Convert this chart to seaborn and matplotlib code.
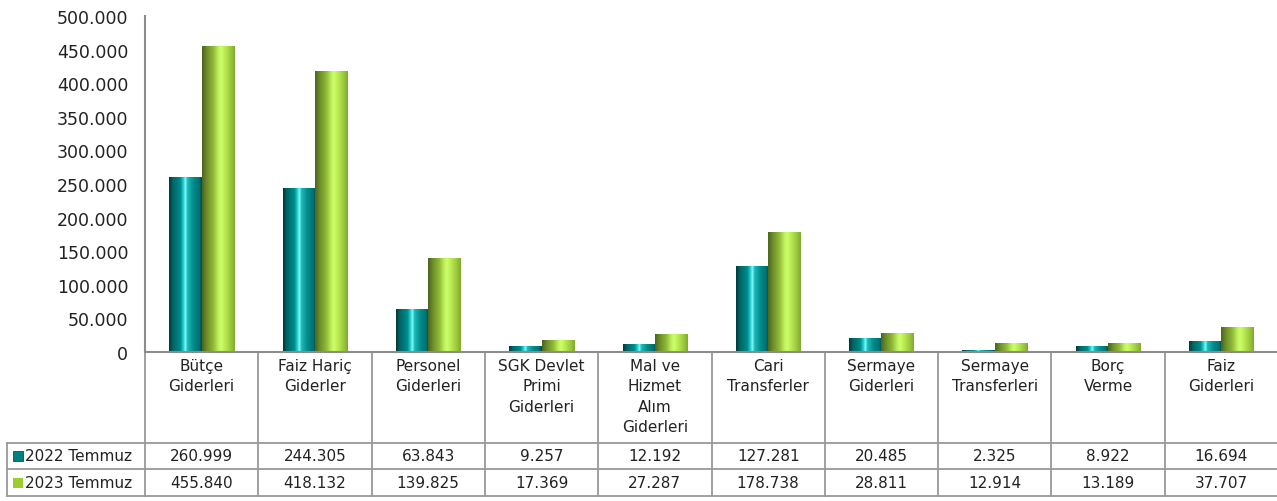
import numpy as np
import pandas as pd
import matplotlib
matplotlib.use("Agg")
import matplotlib.pyplot as plt
import matplotlib.transforms as mtransforms
from matplotlib.colors import to_rgb
from matplotlib.patches import Rectangle
from matplotlib.ticker import FuncFormatter
import seaborn as sns

# veriler (milyon TL)
kategoriler = ["Bütçe\nGiderleri", "Faiz Hariç\nGiderler", "Personel\nGiderleri",
               "SGK Devlet\nPrimi\nGiderleri", "Mal ve\nHizmet\nAlım\nGiderleri",
               "Cari\nTransferler", "Sermaye\nGiderleri", "Sermaye\nTransferleri",
               "Borç\nVerme", "Faiz\nGiderleri"]
seriler = ["2022 Temmuz", "2023 Temmuz"]
temmuz_2022 = [260999, 244305, 63843, 9257, 12192, 127281, 20485, 2325, 8922, 16694]
temmuz_2023 = [455840, 418132, 139825, 17369, 27287, 178738, 28811, 12914, 13189, 37707]
y_ticks = list(range(0, 500001, 50000))

renkler = {"2022 Temmuz": "#008080", "2023 Temmuz": "#9acd32"}
# silindir görünümü için renk geçişleri
gecis = {
    "2022 Temmuz": [(0.0, "#003838"), (0.12, "#006666"), (0.35, "#008c8c"), (0.45, "#30d8d8"),
                    (0.5, "#80ffff"), (0.56, "#20b8b8"), (0.75, "#008a8a"), (0.92, "#007070"),
                    (1.0, "#004848")],
    "2023 Temmuz": [(0.0, "#4a6420"), (0.15, "#6e8f2a"), (0.35, "#92bb38"), (0.5, "#c0f060"),
                    (0.58, "#ccff66"), (0.72, "#b6e650"), (0.9, "#96c23a"), (1.0, "#80a830")],
}


def gradyan(stops, n=256):
    pos = [s[0] for s in stops]
    cols = np.array([to_rgb(s[1]) for s in stops])
    x = np.linspace(0, 1, n)
    arr = np.stack([np.interp(x, pos, cols[:, k]) for k in range(3)], axis=-1)
    return arr[np.newaxis, :, :]


df = pd.DataFrame({
    "Kalem": kategoriler * 2,
    "Dönem": [seriler[0]] * len(kategoriler) + [seriler[1]] * len(kategoriler),
    "Değer": temmuz_2022 + temmuz_2023,
})

W, H = 1277, 502
fig = plt.figure(figsize=(W / 100, H / 100), dpi=100)
ax = fig.add_axes([145 / W, 149 / H, (1278 - 145) / W, (353 - 17) / H])

sns.barplot(data=df, x="Kalem", y="Değer", hue="Dönem", palette=renkler,
            width=0.57, gap=0, legend=False, ax=ax, saturation=1)

# çubuklara silindir gölgesi
patches = list(ax.patches)
n = len(kategoriler)
for i, p in enumerate(patches):
    seri = seriler[i // n]
    x0, w, h = p.get_x(), p.get_width(), p.get_height()
    if h <= 0:
        continue
    im = ax.imshow(gradyan(gecis[seri]), extent=[x0, x0 + w, 0, h], aspect="auto",
                   interpolation="bilinear", zorder=p.get_zorder() + 0.1)
    im.set_clip_path(p)

ax.set_xlim(-0.5, n - 0.5)
ax.set_ylim(0, 500000)
ax.set_yticks(y_ticks)
ax.yaxis.set_major_formatter(FuncFormatter(lambda v, _: f"{int(v):,}".replace(",", ".")))
ax.set_xticks([])
ax.set_xlabel("")
ax.set_ylabel("")
ax.tick_params(axis="y", length=0, labelsize=12.5, pad=12, colors="#222222")
for s in ["top", "right"]:
    ax.spines[s].set_visible(False)
for s in ["left", "bottom"]:
    ax.spines[s].set_color("#8c8c8c")
    ax.spines[s].set_linewidth(1.5)

# alt veri tablosu
trans = mtransforms.blended_transform_factory(ax.transData, fig.transFigure)
fy = lambda py: 1 - py / H
cizgi = dict(color="#999999", lw=1.3, clip_on=False)

# yatay çizgiler
for py in [444, 470, 497]:
    ax.plot([-0.5, n - 0.5], [fy(py)] * 2, transform=trans, **cizgi)
    fig.add_artist(plt.Line2D([7 / W, 145 / W], [fy(py)] * 2, color="#999999", lw=1.3))
fig.add_artist(plt.Line2D([7 / W] * 2, [fy(444), fy(497)], color="#999999", lw=1.3))

# dikey çizgiler
for b in range(n + 1):
    ax.plot([b - 0.5] * 2, [fy(353), fy(497)], transform=trans, **cizgi)

yazi = dict(fontsize=11, color="#222222", ha="center", transform=trans)
for i, k in enumerate(kategoriler):
    ax.text(i, fy(359), k, va="top", linespacing=1.45, **yazi)
    ax.text(i, fy(457), f"{temmuz_2022[i]:,}".replace(",", "."), va="center", **yazi)
    ax.text(i, fy(484), f"{temmuz_2023[i]:,}".replace(",", "."), va="center", **yazi)

# satır başlıkları (gösterge)
for j, (seri, py) in enumerate(zip(seriler, [457, 484])):
    fig.add_artist(Rectangle((13 / W, fy(py + 5)), 10 / W, 10 / H,
                             facecolor=renkler[seri], edgecolor="#005555" if j == 0 else "none",
                             lw=0.6))
    fig.text(25 / W, fy(py), seri, fontsize=11, color="#222222", va="center", ha="left")

fig.savefig("out.png", dpi=100)
